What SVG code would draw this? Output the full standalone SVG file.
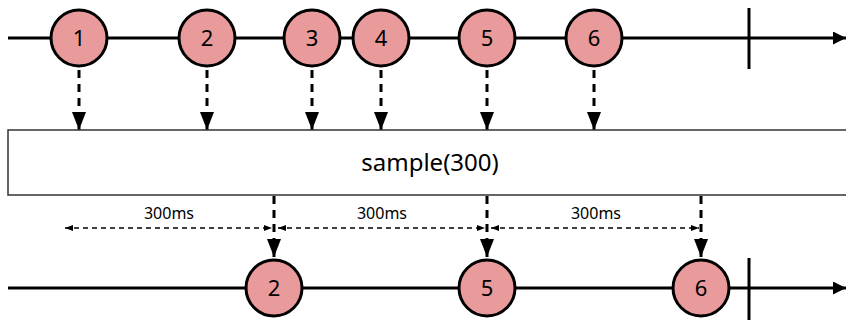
<svg xmlns="http://www.w3.org/2000/svg" width="846" height="320" viewBox="0 0 846 320">
<defs>
<marker id="ah" markerWidth="13" markerHeight="13" refX="13" refY="6.5" orient="auto" markerUnits="userSpaceOnUse">
<path d="M0,0 L13,6.5 L0,13 Z" fill="#000"/>
</marker>
<marker id="ahd" markerWidth="18" markerHeight="14" refX="18" refY="7" orient="auto" markerUnits="userSpaceOnUse">
<path d="M0,0 L18,7 L0,14 Z" fill="#000"/>
</marker>
<marker id="ahs" markerWidth="8" markerHeight="6" refX="8" refY="3" orient="auto-start-reverse" markerUnits="userSpaceOnUse">
<path d="M0,0 L8,3 L0,6 Z" fill="#000"/>
</marker>
</defs>
<style>
.tl{stroke:#000;stroke-width:3;fill:none}
.tick{stroke:#000;stroke-width:3}
.node circle{fill:#e99a9b;stroke:#000;stroke-width:3}
.node text{font-family:"Noto Sans","Open Sans",sans-serif;font-size:22px;fill:#000;text-anchor:middle}
.dv{stroke:#000;stroke-width:3;stroke-dasharray:8,6;fill:none}
.dh{stroke:#000;stroke-width:1.5;stroke-dasharray:5,4;fill:none}
.lbl{font-family:"Noto Sans","Open Sans",sans-serif;font-size:16px;fill:#000;text-anchor:middle}
</style>
<g id="timelines">
<line class="tl" x1="8" y1="38" x2="846" y2="38" marker-end="url(#ah)"/>
<line class="tick" x1="749" y1="8" x2="749" y2="69"/>
<line class="tl" x1="8" y1="288" x2="846" y2="288" marker-end="url(#ah)"/>
<line class="tick" x1="749" y1="258" x2="749" y2="320"/>
</g>
<g id="connectors">
<line class="dv" x1="79" y1="70" x2="79" y2="130" marker-end="url(#ahd)"/>
<line class="dv" x1="207" y1="70" x2="207" y2="130" marker-end="url(#ahd)"/>
<line class="dv" x1="312" y1="70" x2="312" y2="130" marker-end="url(#ahd)"/>
<line class="dv" x1="381" y1="70" x2="381" y2="130" marker-end="url(#ahd)"/>
<line class="dv" x1="487" y1="70" x2="487" y2="130" marker-end="url(#ahd)"/>
<line class="dv" x1="594" y1="70" x2="594" y2="130" marker-end="url(#ahd)"/>
<line class="dv" x1="274" y1="196" x2="274" y2="257" marker-end="url(#ahd)"/>
<line class="dv" x1="487" y1="196" x2="487" y2="257" marker-end="url(#ahd)"/>
<line class="dv" x1="701" y1="196" x2="701" y2="257" marker-end="url(#ahd)"/>
<line class="dh" x1="65" y1="228" x2="272" y2="228" marker-start="url(#ahs)" marker-end="url(#ahs)"/>
<line class="dh" x1="278" y1="228" x2="485" y2="228" marker-start="url(#ahs)" marker-end="url(#ahs)"/>
<line class="dh" x1="491" y1="228" x2="699" y2="228" marker-start="url(#ahs)" marker-end="url(#ahs)"/>
</g>
<g id="labels">
<text class="lbl" x="169" y="219">300ms</text>
<text class="lbl" x="382" y="219">300ms</text>
<text class="lbl" x="596" y="219">300ms</text>
</g>
<g id="operator">
<rect x="8" y="130" width="846" height="65" fill="#fff" stroke="#333" stroke-width="1.5"/>
<text x="430" y="171" font-family="Noto Sans, Open Sans, sans-serif" font-size="24" text-anchor="middle">sample(300)</text>
</g>
<g id="n1" class="node"><circle cx="79" cy="38" r="28"/><text x="79" y="46">1</text></g>
<g id="n2" class="node"><circle cx="207" cy="38" r="28"/><text x="207" y="46">2</text></g>
<g id="n3" class="node"><circle cx="312" cy="38" r="28"/><text x="312" y="46">3</text></g>
<g id="n4" class="node"><circle cx="381" cy="38" r="28"/><text x="381" y="46">4</text></g>
<g id="n5" class="node"><circle cx="487" cy="38" r="28"/><text x="487" y="46">5</text></g>
<g id="n6" class="node"><circle cx="594" cy="38" r="28"/><text x="594" y="46">6</text></g>
<g id="o2" class="node"><circle cx="274" cy="288" r="28"/><text x="274" y="296">2</text></g>
<g id="o5" class="node"><circle cx="487" cy="288" r="28"/><text x="487" y="296">5</text></g>
<g id="o6" class="node"><circle cx="701" cy="288" r="28"/><text x="701" y="296">6</text></g>
</svg>
